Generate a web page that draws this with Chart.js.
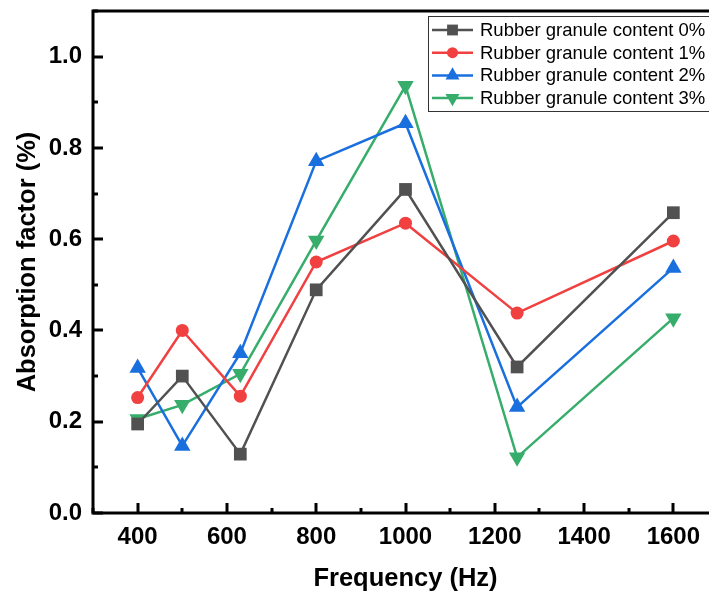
<!DOCTYPE html>
<html>
<head>
<meta charset="utf-8">
<script src="https://cdn.jsdelivr.net/npm/chart.js@4/dist/chart.umd.min.js"></script>
<style>
  html, body { margin: 0; padding: 0; overflow: hidden; background: #fff; }
  #wrap { width: 740px; height: 596px; }
</style>
</head>
<body>
<div id="wrap"><canvas id="chart" width="740" height="596"></canvas></div>
<script>
// data
const frequencies = [400, 500, 630, 800, 1000, 1250, 1600];
const content0 = [0.195, 0.300, 0.129, 0.489, 0.709, 0.320, 0.658];
const content1 = [0.253, 0.400, 0.256, 0.550, 0.635, 0.438, 0.596];
const content2 = [0.318, 0.147, 0.350, 0.771, 0.854, 0.232, 0.537];
const content3 = [0.206, 0.237, 0.305, 0.597, 0.936, 0.122, 0.427];
const seriesLabels = ['Rubber granule content 0%', 'Rubber granule content 1%',
                      'Rubber granule content 2%', 'Rubber granule content 3%'];
const xTicks = [400, 600, 800, 1000, 1200, 1400, 1600];
const yTicks = [0.0, 0.2, 0.4, 0.6, 0.8, 1.0];

const colors = ['#515151', '#F14040', '#1A6FDF', '#37AD6B'];
const styles = [
    { pointStyle: 'rect', radius: 9, rotation: 0 },
    { pointStyle: 'circle', radius: 6.5, rotation: 0 },
    { pointStyle: 'triangle', radius: 9.5, rotation: 0 },
    { pointStyle: 'triangle', radius: 9.5, rotation: 180 }
];
const fontFamily = '"Liberation Sans", Arial, sans-serif';

function toPoints(values) {
    return values.map((v, i) => ({ x: frequencies[i], y: v }));
}

const datasets = [content0, content1, content2, content3].map((values, i) => ({
    label: seriesLabels[i],
    data: toPoints(values),
    borderColor: colors[i],
    backgroundColor: colors[i],
    borderWidth: 2.5,
    pointStyle: styles[i].pointStyle,
    pointRadius: styles[i].radius,
    pointRotation: styles[i].rotation,
    pointBorderWidth: 0,
    pointBackgroundColor: colors[i],
    tension: 0
}));

// frame, inward ticks and the legend box inside the plot
const framePlugin = {
    id: 'frame',
    afterDraw(chart) {
        const ctx = chart.ctx;
        const area = chart.chartArea;
        const xs = chart.scales.x;
        const ys = chart.scales.y;
        ctx.save();
        ctx.strokeStyle = '#000';
        ctx.lineWidth = 3;
        ctx.lineCap = 'butt';

        // y ticks (major every 0.2, minor between)
        for (let k = 0; k <= 11; k++) {
            const py = Math.round(ys.getPixelForValue(k / 10));
            const len = k % 2 === 0 ? 10 : 5;
            ctx.beginPath();
            ctx.moveTo(area.left, py);
            ctx.lineTo(area.left + len, py);
            ctx.stroke();
        }
        // x ticks (major every 200, minor between)
        for (let f = 300; f <= 1700; f += 100) {
            const px = Math.round(xs.getPixelForValue(f));
            const len = f % 200 === 0 ? 10 : 5;
            ctx.beginPath();
            ctx.moveTo(px, area.bottom);
            ctx.lineTo(px, area.bottom - len);
            ctx.stroke();
        }
        ctx.strokeRect(area.left, area.top, area.right - area.left, area.bottom - area.top);

        // legend
        const boxLeft = 428, boxTop = 16, rowH = 22.7;
        ctx.fillStyle = '#fff';
        ctx.fillRect(boxLeft, boxTop, 300, 95);
        ctx.lineWidth = 1;
        ctx.strokeStyle = '#333';
        ctx.strokeRect(boxLeft + 0.5, boxTop + 0.5, 300, 95);
        ctx.font = '18.5px ' + fontFamily;
        ctx.textBaseline = 'middle';
        ctx.textAlign = 'left';
        chart.data.datasets.forEach((ds, i) => {
            const cy = boxTop + 14 + i * rowH;
            ctx.strokeStyle = ds.borderColor;
            ctx.lineWidth = 2.5;
            ctx.beginPath();
            ctx.moveTo(432, cy);
            ctx.lineTo(473, cy);
            ctx.stroke();
            ctx.fillStyle = ds.borderColor;
            Chart.helpers.drawPoint(ctx, {
                pointStyle: ds.pointStyle,
                radius: ds.pointRadius * 0.85,
                rotation: ds.pointRotation,
                borderWidth: 0
            }, 452.5, cy);
            ctx.fillStyle = '#000';
            ctx.fillText(ds.label, 480, cy + 1);
        });
        ctx.restore();
    }
};

const ctx = document.getElementById('chart').getContext('2d');
new Chart(ctx, {
    type: 'line',
    data: { datasets: datasets },
    options: {
        responsive: false,
        animation: false,
        layout: { padding: { top: 11, right: 22, left: 0, bottom: 0 } },
        plugins: {
            legend: { display: false },
            tooltip: { enabled: false }
        },
        scales: {
            x: {
                type: 'linear',
                min: 300,
                max: 1700,
                grid: { display: false, drawTicks: false },
                border: { display: false },
                afterFit: function (scale) {
                    scale.height = 83;
                    scale.paddingLeft = 0;
                    scale.paddingRight = 0;
                },
                afterBuildTicks: function (scale) {
                    scale.ticks = xTicks.map(v => ({ value: v }));
                },
                ticks: {
                    color: '#000',
                    padding: 10,
                    callback: v => String(v),
                    font: { family: fontFamily, size: 24, weight: 'bold' }
                },
                title: {
                    display: true,
                    text: 'Frequency (Hz)',
                    color: '#000',
                    padding: { top: 0, bottom: 2 },
                    font: { family: fontFamily, size: 25.5, weight: 'bold' }
                }
            },
            y: {
                min: 0,
                max: 1.1,
                grid: { display: false, drawTicks: false },
                border: { display: false },
                afterFit: function (scale) {
                    scale.width = 93;
                    scale.paddingTop = 0;
                    scale.paddingBottom = 0;
                },
                afterBuildTicks: function (scale) {
                    scale.ticks = yTicks.map(v => ({ value: v }));
                },
                ticks: {
                    color: '#000',
                    padding: 11,
                    callback: v => v.toFixed(1),
                    font: { family: fontFamily, size: 24, weight: 'bold' }
                },
                title: {
                    display: true,
                    text: 'Absorption factor (%)',
                    color: '#000',
                    padding: { top: 13, bottom: 0 },
                    font: { family: fontFamily, size: 25.5, weight: 'bold' }
                }
            }
        }
    },
    plugins: [framePlugin]
});
</script>
</body>
</html>
